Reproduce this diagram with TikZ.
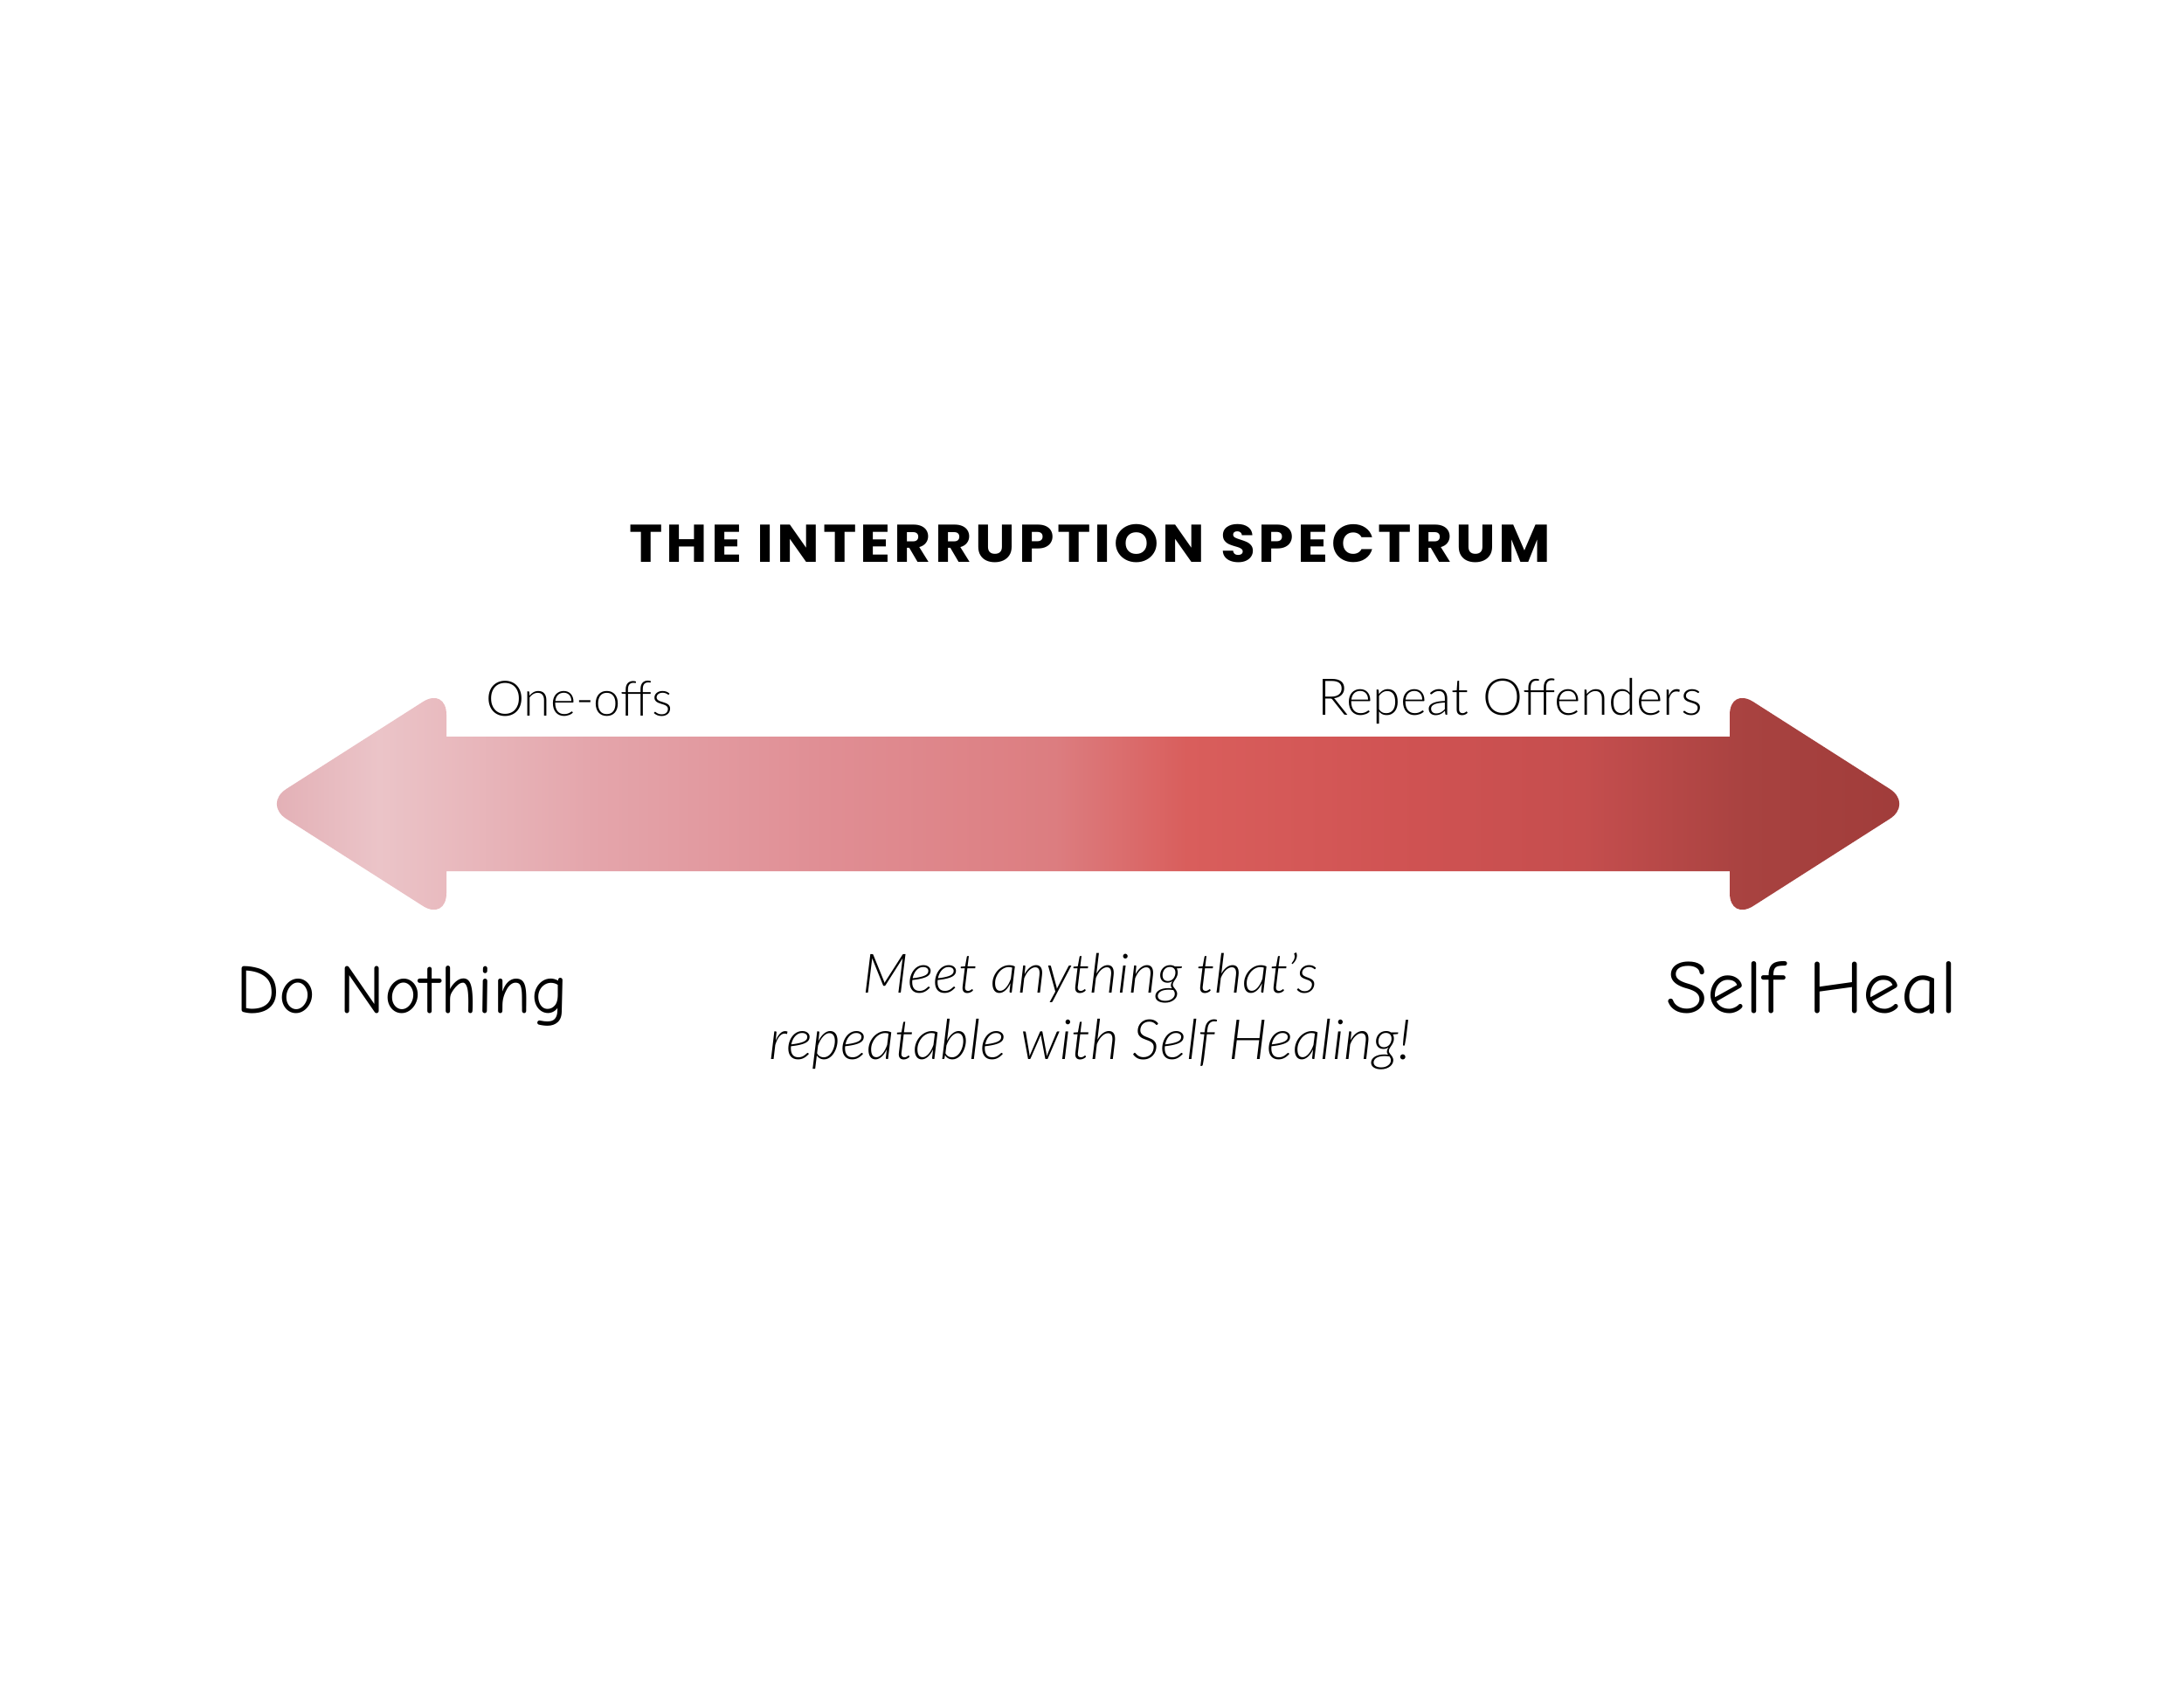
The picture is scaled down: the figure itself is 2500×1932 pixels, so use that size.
\documentclass[tikz,border=0pt]{standalone}
\usepackage{fontspec}
\usepackage{graphicx}
\IfFontExistsTF{Lato Light}{\newfontfamily\lightfont{Lato Light}}{%
  \IfFontExistsTF{Fira Sans Light}{\newfontfamily\lightfont{Fira Sans Light}}{%
    \newfontfamily\lightfont{Liberation Sans}}}
\newfontfamily\titlefont{Poppins}[LetterSpace=6]
\IfFontExistsTF{Comic Neue}{\newfontfamily\handfont{Comic Neue}}{\newfontfamily\handfont{Lato Light}}
\definecolor{sp0}{HTML}{E2AEB4}
\definecolor{sp1}{HTML}{EBC4C8}
\definecolor{sp2}{HTML}{E4A5AB}
\definecolor{sp3}{HTML}{E08E94}
\definecolor{sp4}{HTML}{DC7D80}
\definecolor{sp5}{HTML}{D95E5C}
\definecolor{sp6}{HTML}{CF5252}
\definecolor{sp7}{HTML}{C54E4E}
\definecolor{sp8}{HTML}{A84240}
\definecolor{sp9}{HTML}{A03C3A}
\pgfdeclarehorizontalshading{spectrum}{100bp}{color(0bp)=(sp0); color(25bp)=(sp0); color(28.5bp)=(sp1); color(35bp)=(sp2); color(42bp)=(sp3); color(49bp)=(sp4); color(53bp)=(sp5); color(60bp)=(sp6); color(65bp)=(sp7); color(70bp)=(sp8); color(75bp)=(sp9); color(100bp)=(sp9)}
\begin{document}
\begin{tikzpicture}[x=0.01cm,y=-0.01cm,
  lbl/.style={inner sep=0pt, outer sep=0pt, text=black}]
\useasboundingbox[fill=white] (0,0) rectangle (2500,1932);
% spectrum arrow
\shade[shading=spectrum] (511,843) [rounded corners=0.32cm] -- (511,786) -- (301,920) -- (511,1054)
  [sharp corners] -- (511,997) -- (1980,997)
  [rounded corners=0.32cm] -- (1980,1054) -- (2190,920) -- (1980,786)
  [sharp corners] -- (1980,843) -- cycle;
% texts
\node[lbl, anchor=base] (title) at (1248,643) {\resizebox{300pt}{12.3pt}{\titlefont\bfseries THE INTERRUPTION SPECTRUM}};
\node[lbl, anchor=base west] (oneoffs) at (556,819) {\resizebox{60.9pt}{!}{\lightfont One-offs}};
\node[lbl, anchor=base west] (repeat) at (1508,818) {\resizebox{125.2pt}{!}{\lightfont Repeat Offenders}};
\node[lbl, anchor=base west] (donothing) at (270,1159) {\resizebox{108.1pt}{!}{\handfont Do Nothing}};
\node[lbl, anchor=base west] (selfheal) at (1907,1159) {\resizebox{94.7pt}{!}{\handfont Self Heal}};
\node[lbl, anchor=base] (meet1) at (1248,1136) {\resizebox{148pt}{!}{\lightfont\itshape Meet anything that’s}};
\node[lbl, anchor=base] (meet2) at (1248,1212) {\resizebox{208.8pt}{!}{\lightfont\itshape repeatable with Self Healing!}};
\end{tikzpicture}
\end{document}
